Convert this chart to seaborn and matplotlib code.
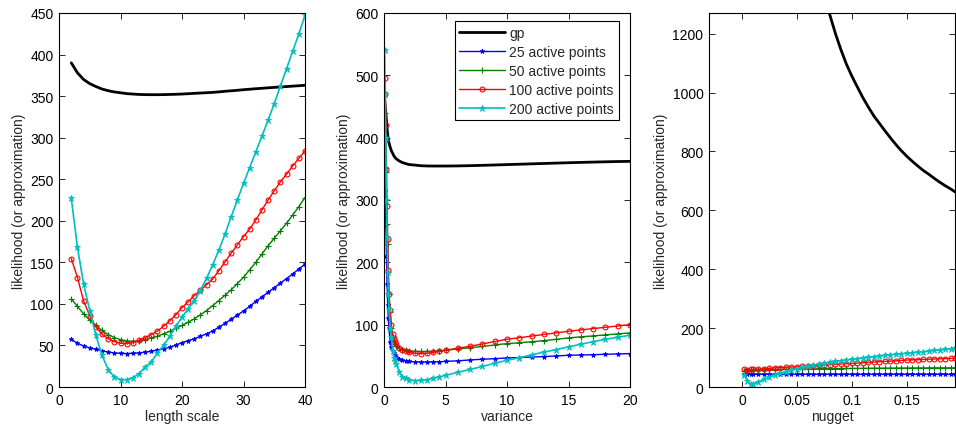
import matplotlib
matplotlib.use("Agg")
import matplotlib.pyplot as plt
import seaborn as sns
import numpy as np

# ---------------- data ----------------
series_names = ["gp", "25 active points", "50 active points", "100 active points", "200 active points"]

# panel 1: length scale
ls_x = [2, 3, 4, 5, 6, 7, 8, 9, 10, 11, 12, 13, 14, 15, 16, 17, 18, 19, 20, 21,
        22, 23, 24, 25, 26, 27, 28, 29, 30, 31, 32, 33, 34, 35, 36, 37, 38, 39, 40]
ls_gp = [390, 378, 370, 365, 361.5, 358.5, 356.5, 355, 354, 353, 352.5, 352, 351.8, 351.7, 351.7,
         351.8, 352, 352.2, 352.5, 352.9, 353.3, 353.7, 354.1, 354.5, 355.1, 355.8, 356.4, 357,
         357.7, 358.3, 358.9, 359.4, 360, 360.5, 361, 361.5, 362, 362.5, 363]
ls_25 = [57.4, 52.5, 49.4, 47, 45.4, 43.5, 42, 41, 40.5, 40.3, 40.5, 41, 42, 43, 44.5, 46, 47.8,
         50.5, 53.4, 55.7, 58, 61, 64, 67.4, 72, 76.5, 81.5, 86.5, 91.5, 97, 103, 108.4, 114,
         119.5, 125, 130.5, 136, 142, 147.7]
ls_50 = [106, 97, 88, 80.5, 74, 68, 63, 59.5, 57, 55.5, 55, 55.5, 57, 59, 61, 64, 67, 70.5, 74,
         78, 82, 87, 92, 98, 104, 110.5, 117, 124.5, 132, 141, 150, 160, 170, 179, 188, 197, 207,
         217, 228]
ls_100 = [154.6, 131.7, 103.6, 85.5, 72.3, 63.4, 58.2, 54.6, 52.6, 52.2, 53.4, 56, 59.4, 63, 67.4,
          73, 79.5, 87, 95.5, 102.5, 110, 116.5, 123, 130, 140, 150.5, 161, 171, 181, 190,
          201, 213, 225, 236, 247, 256, 266, 275, 284]
ls_200 = [227, 168, 124, 92, 62, 38, 21, 12, 9, 8.8, 11, 16, 24, 30, 41, 50, 61, 73, 84, 94,
          104, 116, 131, 147, 165, 184, 205, 225, 245, 264, 283, 302, 321, 341, 362, 383, 404,
          425, 447]

# panel 2: variance
var_x = [0.05, 0.1, 0.15, 0.2, 0.25, 0.3, 0.35, 0.4, 0.5, 0.6, 0.7, 0.8, 0.9, 1, 1.25, 1.5, 1.75,
         2, 2.5, 3, 3.5, 4, 4.5, 5, 6, 7, 8, 9, 10, 11, 12, 13, 14, 15, 16, 17, 18, 19, 20]
var_gp = [460, 450, 440, 428, 415, 405, 397, 392, 385, 379, 375, 371, 368, 366, 362.5, 360, 358.5,
          357, 356, 355, 354.6, 354.5, 354.5, 354.5, 354.7, 355.1, 355.6, 356.2, 356.8, 357.4,
          358, 358.6, 359.2, 359.8, 360.3, 360.8, 361.3, 361.7, 362]
var_25 = [350, 315, 260, 210, 165, 132, 110, 95, 72, 64, 58, 54, 51, 48, 45, 43, 42, 41, 40.4,
          40, 40, 40.3, 40.6, 41, 42, 43.4, 44.5, 45.5, 46.6, 47.3, 48, 48.8, 49.8, 50.9, 51.3,
          51.8, 52.5, 53, 53.6]
var_50 = [440, 400, 345, 300, 262, 230, 185, 150, 120, 95, 80, 73, 69, 66, 62.5, 60, 59, 58, 57.4,
          57, 57, 57.5, 58.2, 59, 61, 63, 65, 67.5, 69.6, 71, 72.6, 74.4, 76.5, 78.7, 80.5, 82,
          83.6, 85.2, 86.8]
var_100 = [470, 495, 420, 350, 290, 238, 187, 150, 123, 100, 85, 78, 73, 69, 63, 59, 57, 55.5,
           54.2, 53.6, 54, 55.5, 57.2, 59, 62.2, 65.4, 69, 73, 76.6, 79, 81.7, 84.3, 86.9, 89.4,
           91.6, 93.7, 95.8, 98, 100]
var_200 = [540, 470, 400, 300, 240, 185, 150, 125, 95, 80, 58, 47, 42, 37, 24, 16, 14, 12, 10,
           10.5, 11.5, 14, 16.3, 18.7, 23.5, 28.2, 33, 38, 42.8, 47, 51.5, 56, 60, 64.3, 68.5,
           72.8, 76.5, 79.8, 83]

# panel 3: nugget
nug_x = [0.002, 0.005, 0.008, 0.01, 0.015, 0.02, 0.025, 0.03, 0.035, 0.04, 0.045, 0.05, 0.055,
         0.06, 0.065, 0.07, 0.075, 0.08, 0.085, 0.09, 0.095, 0.1, 0.105, 0.11, 0.115, 0.12,
         0.125, 0.13, 0.135, 0.14, 0.145, 0.15, 0.155, 0.16, 0.165, 0.17, 0.175, 0.18, 0.185,
         0.19, 0.194]
nug_gp_x = [0.078, 0.08, 0.085, 0.09, 0.095, 0.1, 0.105, 0.11, 0.115, 0.12, 0.125, 0.13, 0.135,
            0.14, 0.145, 0.15, 0.155, 0.16, 0.165, 0.17, 0.175, 0.18, 0.185, 0.19, 0.194]
nug_gp = [1290, 1262, 1200, 1145, 1096, 1055, 1018, 982, 950, 920, 895, 870, 846, 823, 802, 783,
          766, 750, 735, 722, 708, 695, 683, 672, 662]
nug_25 = [44, 43.5, 43, 43, 43, 43, 43, 43, 43, 43, 43, 43, 43, 43, 43, 43, 43, 43, 43, 43, 43,
          43, 43, 43, 43, 43, 43, 43, 43, 43, 43, 43, 43, 43, 43, 43, 43, 43, 43, 43, 43]
nug_50 = [55, 56, 56.5, 57, 57.5, 58, 58.5, 59, 59.5, 60, 60.3, 60.7, 61, 61.3, 61.6, 61.9, 62.2,
          62.4, 62.6, 62.8, 62.9, 63, 63.2, 63.4, 63.6, 63.8, 64, 64.1, 64.2, 64.3, 64.4, 64.5,
          64.6, 64.7, 64.8, 64.9, 65, 65, 65, 65, 65]
nug_100 = [59.6, 59, 59.5, 60, 61, 62, 63.5, 65, 66, 67, 68, 68.6, 70, 71, 72.2, 73.4, 74.6, 75.7,
           76.8, 78, 79, 80, 81.2, 82.4, 83.6, 84.8, 86, 87, 88, 89, 90.3, 91.6, 92.3, 93, 93.7,
           94.4, 95, 95.7, 96.3, 97, 97.4]
nug_200 = [40, 20, 9, 10, 18, 26, 34, 41, 47, 52, 57.5, 62, 66.5, 70.5, 74.5, 78, 81, 84, 87, 89.5,
           92, 94, 96.5, 99, 101, 103, 105, 107, 109, 111, 113, 114.6, 116.5, 118.3, 120, 122, 124,
           126, 128, 130, 131.7]

x_labels = ["length scale", "variance", "nugget"]
y_label = "likelihood (or approximation)"
ticks1_x = [0, 10, 20, 30, 40]
ticks1_y = [0, 50, 100, 150, 200, 250, 300, 350, 400, 450]
ticks2_x = [0, 5, 10, 15, 20]
ticks2_y = [0, 100, 200, 300, 400, 500, 600]
ticks3_x = [0, 0.05, 0.1, 0.15]
ticks3_xlabels = ["0", "0.05", "0.1", "0.15"]
ticks3_y = [0, 200, 400, 600, 800, 1000, 1200]

# ---------------- style ----------------
sns.set_style("ticks")
plt.rcParams["font.family"] = ["Liberation Sans", "DejaVu Sans"]
plt.rcParams["font.size"] = 10

fig = plt.figure(figsize=(9.56, 4.35), dpi=100)
W, H = 956, 435
def add_ax(left, top, right, bottom):
    return fig.add_axes([left / W, 1 - bottom / H, (right - left) / W, (bottom - top) / H])

ax1 = add_ax(59, 14, 305, 388)
ax2 = add_ax(384, 14, 630, 388)
ax3 = add_ax(709, 14, 955, 388)

styles = {
    "gp": dict(color="black", lw=2.0, marker=None),
    "25": dict(color=(0, 0, 1), lw=1.0, marker="*", ms=3.5, mew=0.6),
    "50": dict(color=(0, 0.5, 0), lw=1.0, marker="+", ms=4, mew=0.8),
    "100": dict(color=(1, 0, 0), lw=1.0, marker="o", ms=3.5, mew=0.8, mfc="none"),
    "200": dict(color=(0, 0.75, 0.75), lw=1.2, marker="*", ms=4.5, mew=0.6),
}
keys = ["gp", "25", "50", "100", "200"]

def draw(ax, xs, ys_list, gp_x=None):
    for k, name, ys in zip(keys, series_names, ys_list):
        st = dict(styles[k])
        x = gp_x if (k == "gp" and gp_x is not None) else xs
        c = st.pop("color")
        lw = st.pop("lw")
        mk = st.pop("marker")
        kw = {}
        if mk is not None:
            kw = dict(marker=mk, markersize=st.get("ms", 4), markeredgewidth=st.get("mew", 0.8),
                      markerfacecolor=st.get("mfc", c), markeredgecolor=c)
        sns.lineplot(x=x, y=ys, ax=ax, color=c, linewidth=lw, label=name,
                     estimator=None, sort=False, legend=False, **kw)

draw(ax1, ls_x, [ls_gp, ls_25, ls_50, ls_100, ls_200])
draw(ax2, var_x, [var_gp, var_25, var_50, var_100, var_200])
draw(ax3, nug_x, [nug_gp, nug_25, nug_50, nug_100, nug_200], gp_x=nug_gp_x)

ax1.set_xlim(0, 40); ax1.set_ylim(0, 450)
ax1.set_xticks(ticks1_x); ax1.set_yticks(ticks1_y)
ax2.set_xlim(0, 20); ax2.set_ylim(0, 600)
ax2.set_xticks(ticks2_x); ax2.set_yticks(ticks2_y)
ax3.set_xlim(-0.03, 0.1937); ax3.set_ylim(0, 1270)
ax3.set_xticks(ticks3_x); ax3.set_xticklabels(ticks3_xlabels); ax3.set_yticks(ticks3_y)

for ax, xl in zip([ax1, ax2, ax3], x_labels):
    ax.set_xlabel(xl, fontsize=10, labelpad=2)
    ax.set_ylabel(y_label, fontsize=10, labelpad=3)
    ax.tick_params(direction="in", top=True, right=True, length=4, width=0.6,
                   labelsize=10, pad=4, colors="black")
    for sp in ax.spines.values():
        sp.set_visible(True)
        sp.set_linewidth(0.8)
        sp.set_color("black")

leg = ax2.legend(loc="upper right", bbox_to_anchor=(0.955, 0.978), fontsize=10,
                 frameon=True, fancybox=False, framealpha=1, edgecolor="black",
                 handlelength=3.3, handletextpad=0.3, borderpad=0.35, labelspacing=0.35,
                 borderaxespad=0)
leg.get_frame().set_linewidth(0.8)

fig.savefig("out.png", dpi=100)
